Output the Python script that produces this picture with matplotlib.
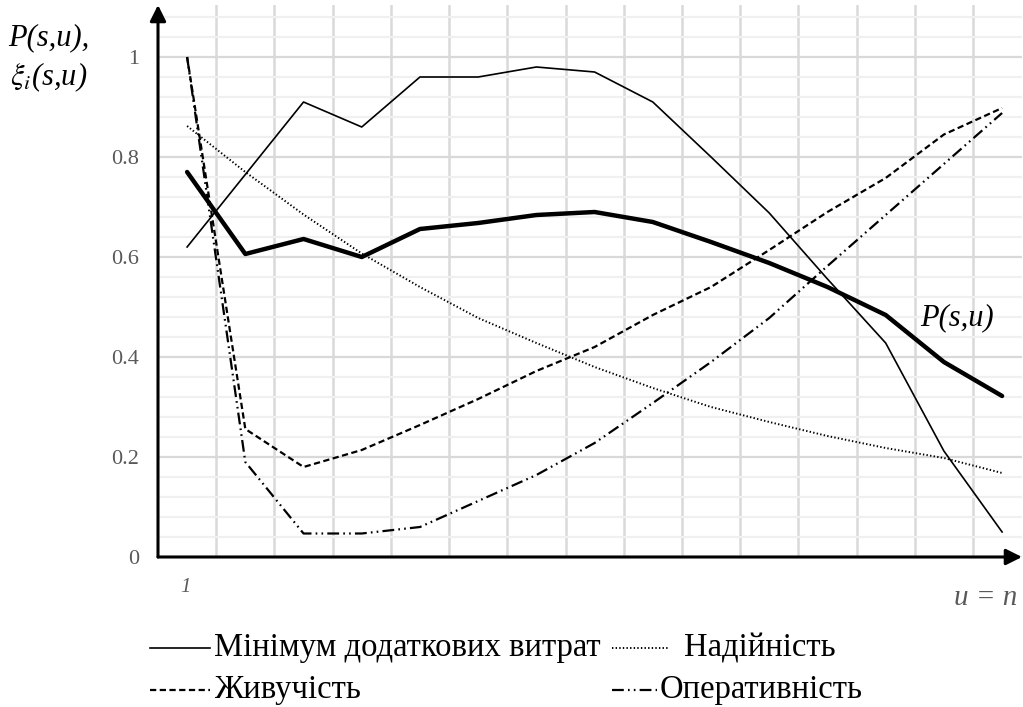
"""
Chart of the generalised index P(s,u) and partial criteria xi_i(s,u)
against the step u = 1..n. Rebuilt as a static PNG (out.png).
"""

import matplotlib
matplotlib.use("Agg")
import matplotlib.pyplot as plt
from matplotlib.lines import Line2D
import numpy as np

# Steps u = 1..n
STEPS = np.arange(1, 16)

# Series
MIN_COST = [0.62, 0.765, 0.91, 0.86, 0.96, 0.96, 0.98, 0.97, 0.91, 0.80,
            0.688, 0.556, 0.428, 0.212, 0.05]
RELIABILITY = [0.862, 0.77, 0.685, 0.607, 0.54, 0.478, 0.428, 0.38, 0.338,
               0.30, 0.27, 0.242, 0.218, 0.198, 0.168]
SURVIVABILITY = [1.0, 0.256, 0.18, 0.214, 0.264, 0.316, 0.372, 0.42, 0.484,
                 0.54, 0.614, 0.69, 0.758, 0.845, 0.898]
EFFICIENCY = [1.0, 0.19, 0.047, 0.047, 0.06, 0.112, 0.164, 0.228, 0.308,
              0.39, 0.478, 0.582, 0.684, 0.786, 0.888]
P_SU = [0.77, 0.606, 0.636, 0.60, 0.656, 0.668, 0.684, 0.69, 0.67, 0.63,
        0.588, 0.54, 0.484, 0.39, 0.322]

LABELS = [
    "Мінімум додаткових витрат",
    "Надійність",
    "Живучість",
    "Оперативність",
]
Y_TICKS = [0, 0.2, 0.4, 0.6, 0.8, 1.0]
Y_TICK_LABELS = ["0", "0.2", "0.4", "0.6", "0.8", "1"]

SERIF = ["Liberation Serif", "DejaVu Serif"]
TICK_COLOR = "#595959"

plt.rcParams["font.family"] = SERIF
plt.rcParams["mathtext.fontset"] = "stix"
plt.rcParams["lines.scale_dashes"] = False

W, H = 1023, 707
fig = plt.figure(figsize=(W / 100, H / 100), dpi=100)

# axes box in pixel terms: y axis at x=158, x axis at y=557
left, right = 158, 1022
bottom, top = 557, 5
ax = fig.add_axes([left / W, 1 - bottom / H, (right - left) / W, (bottom - top) / H])

unit = (1002 - 187) / 14.0
ax.set_xlim(0.5, 0.5 + (right - left) / unit)
ax.set_ylim(0, (bottom - top) / 500.0)

# grid
ax.set_yticks(Y_TICKS)
ax.set_yticklabels(Y_TICK_LABELS)
ax.set_yticks(np.arange(0.04, 1.09, 0.04), minor=True)
ax.set_xticks([])
ax.set_xticks(np.arange(1.5, 15.0, 1.0), minor=True)
ax.grid(which="major", axis="y", color="#d9d9d9", lw=1.6, zorder=0)
ax.grid(which="minor", axis="y", color="#f0f0f0", lw=1.6, zorder=0)
ax.grid(which="minor", axis="x", color="#d9d9d9", lw=1.8, zorder=0)
ax.set_axisbelow(True)
ax.tick_params(which="both", length=0)
ax.tick_params(axis="y", pad=13.5, labelsize=16, labelcolor=TICK_COLOR)
for s in ax.spines.values():
    s.set_visible(False)

# series
styles = {
    "min": dict(color="black", lw=1.2, ls="-"),
    "rel": dict(color="black", lw=1.4, ls=(0, (1.0, 1.6))),
    "sur": dict(color="black", lw=1.6, ls=(0, (4.5, 2.5))),
    "eff": dict(color="black", lw=1.6, ls=(0, (8.5, 3.0, 1.2, 3.0, 1.2, 3.0))),
}
ax.plot(STEPS, MIN_COST, **styles["min"], zorder=3)
ax.plot(STEPS, RELIABILITY, **styles["rel"], zorder=3)
ax.plot(STEPS, SURVIVABILITY, **styles["sur"], zorder=3)
ax.plot(STEPS, EFFICIENCY, **styles["eff"], zorder=3)
ax.plot(STEPS, P_SU, color="black", lw=3.2, solid_capstyle="round",
        solid_joinstyle="round", zorder=4)

# axes with arrows
arrow = dict(arrowstyle="-|>", lw=2.2, color="black", mutation_scale=24,
             shrinkA=0, shrinkB=0)
ax.annotate("", xy=(0, 1), xytext=(0, 0), xycoords="axes fraction",
            arrowprops=arrow, annotation_clip=False, zorder=6)
ax.annotate("", xy=(1, 0), xytext=(0, 0), xycoords="axes fraction",
            arrowprops=arrow, annotation_clip=False, zorder=6)

# text labels
ax.text(0.97, -0.06, "1", ha="center", va="center", fontsize=15,
        style="italic", color=TICK_COLOR)
ax.text(14.71, -0.082, "u = n", ha="center", va="center", fontsize=21,
        style="italic", color=TICK_COLOR)
ax.text(14.23, 0.478, "P(s,u)", ha="center", va="center", fontsize=22,
        style="italic")

fig.text(8 / W, 1 - 38 / H, "P(s,u),", ha="left", va="center", fontsize=22,
         style="italic")
fig.text(10 / W, 1 - 77 / H, r"$\xi_i$(s,u)", ha="left", va="center",
         fontsize=22, style="italic")

# legend, drawn by hand to keep the original two-row layout
legend_rows = [
    (150, 210, 648, 214, "min", LABELS[0]),
    (612, 668, 648, 684, "rel", LABELS[1]),
    (150, 210, 690, 214, "sur", LABELS[2]),
    (612, 657, 690, 660, "eff", LABELS[3]),
]
for x0, x1, yy, xt, key, label in legend_rows:
    st = styles[key]
    fig.add_artist(Line2D([x0 / W, x1 / W], [1 - yy / H, 1 - yy / H],
                          transform=fig.transFigure, color=st["color"],
                          lw=st["lw"], ls=st["ls"]))
    fig.text(xt / W, 1 - yy / H, label, ha="left", va="center", fontsize=23.5)

fig.savefig("out.png", dpi=100)
